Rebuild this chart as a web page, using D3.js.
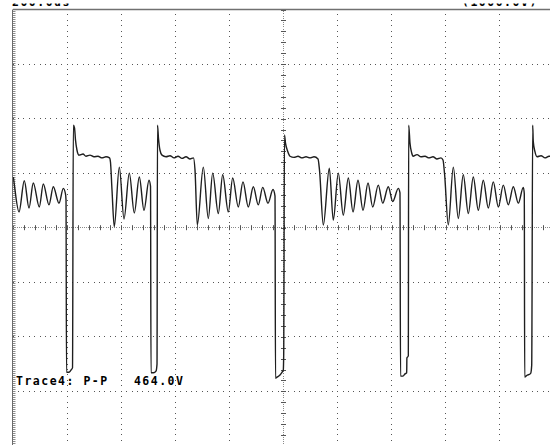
<!DOCTYPE html>
<html>
<head>
<meta charset="utf-8">
<script src="https://cdn.jsdelivr.net/npm/d3@7"></script>
<style>
  html, body { margin: 0; padding: 0; background: #fff; }
  svg { display: block; }
</style>
</head>
<body>
<svg id="chart" width="550" height="445"></svg>
<script>
// ---- data (time in divisions, voltage in volts; 100 V/div) ----
const traceTime = [
  0.006, 0.018, 0.111, 0.209, 0.296, 0.375, 0.486, 0.560, 0.665, 0.745, 0.850, 0.930, 0.970, 0.980,
  0.989, 1.035, 1.072, 1.100, 1.115, 1.137, 1.155, 1.183, 1.220,
  1.294, 1.349, 1.423, 1.497, 1.571, 1.645, 1.719, 1.784,
  1.802, 1.830, 1.872, 1.965, 2.052, 2.150, 2.242, 2.335, 2.421, 2.514, 2.542,
  2.551, 2.597, 2.643, 2.662, 2.671, 2.689, 2.717, 2.754,
  2.828, 2.902, 2.976, 3.050, 3.124, 3.198, 3.272, 3.336,
  3.364, 3.407, 3.518, 3.610, 3.691, 3.795, 3.876, 3.980, 4.061, 4.165, 4.251, 4.349, 4.442, 4.534, 4.616, 4.713, 4.806, 4.843,
  4.852, 4.880, 4.935, 4.972, 4.996, 5.004, 5.018, 5.037, 5.074, 5.120,
  5.194, 5.268, 5.342, 5.416, 5.490, 5.564, 5.638,
  5.665, 5.736, 5.847, 5.920, 6.013, 6.105, 6.198, 6.285, 6.377, 6.470, 6.562, 6.649, 6.752, 6.834, 6.937, 7.019, 7.122, 7.153,
  7.163, 7.209, 7.246, 7.277, 7.281, 7.307, 7.314, 7.338, 7.370, 7.394,
  7.468, 7.542, 7.616, 7.689, 7.763, 7.837, 7.911, 7.948,
  7.976, 8.046, 8.139, 8.231, 8.323, 8.416, 8.508, 8.601, 8.693, 8.786, 8.878, 8.971, 9.063, 9.155, 9.248, 9.340, 9.433, 9.451,
  9.458, 9.495, 9.569, 9.588, 9.606, 9.617, 9.649, 9.686,
  9.760, 9.834, 9.908, 10.037
];
const traceVolts = [
  93, 84, 29, 86, 36, 82, 38, 80, 42, 75, 45, 72, 62, 51,
  -265, -265, -261, -257, 188, 183, 161, 142, 133,
  135, 131, 133, 130, 131, 128, 130, 128,
  120, 69, 2, 111, 16, 100, 27, 93, 32, 87, 76,
  -266, -266, -263, -250, 188, 164, 142, 133,
  130, 132, 128, 131, 127, 130, 126, 128,
  106, 5, 111, 17, 100, 26, 97, 29, 91, 38, 84, 38, 75, 42, 74, 45, 70, 58,
  -276, -274, -270, -265, -261, -230, 170, 155, 141, 131,
  129, 131, 128, 130, 128, 130, 126,
  106, 5, 109, 14, 100, 23, 91, 29, 87, 32, 82, 38, 78, 45, 75, 48, 72, 64,
  -272, -272, -268, -266, -239, -235, 188, 155, 137, 131,
  134, 130, 131, 128, 130, 126, 128, 124,
  100, 5, 111, 17, 97, 26, 93, 32, 87, 36, 84, 38, 78, 42, 75, 45, 74, 62,
  -274, -271, -267, -252, 188, 158, 139, 130,
  132, 128, 131, 128
];
const gridDivisions = [0, 1, 2, 3, 4, 5, 6, 7, 8, 9, 10];
const gridVolts = [-400, -300, -200, -100, 0, 100, 200, 300, 400];
const measureLabel = "Trace4: P-P   464.0V";
const headerLeft = "200.0us";
const headerRight = "(1000.0V)";

// ---- scales ----
const x = d3.scaleLinear().domain([0, 10]).range([13, 554]);
const y = d3.scaleLinear().domain([-400, 400]).range([445.9, 9.5]);

const svg = d3.select("#chart");
const W = 550, H = 445;

svg.append("clipPath").attr("id", "plotClip")
  .append("rect").attr("x", x(0)).attr("y", y(400)).attr("width", W - x(0)).attr("height", H - y(400));
svg.append("clipPath").attr("id", "headClip")
  .append("rect").attr("x", 0).attr("y", 3.6).attr("width", W).attr("height", 3);

const grid = svg.append("g").attr("clip-path", "url(#plotClip)");
const px = v => Math.round(v);

// dotted vertical grid lines
const vDots = [];
gridDivisions.filter(d => d > 0 && d < 10 && d !== 5).forEach(d => {
  d3.range(-400, 401, 10).forEach(v => vDots.push([x(d), y(v)]));
});
// dotted horizontal grid lines
const hDots = [];
gridVolts.filter(v => v > -400 && v < 400 && v !== 0).forEach(v => {
  d3.range(0, 10.01, 0.1).forEach(t => hDots.push([x(t), y(v)]));
});
grid.selectAll("rect.dot").data(vDots.concat(hDots)).join("rect")
  .attr("class", "dot")
  .attr("x", d => px(d[0] - 0.5)).attr("y", d => px(d[1] - 0.5))
  .attr("width", 1).attr("height", 1).attr("fill", "#555");

// center horizontal axis: fine dots + ticks
const cy = y(0), cx = x(5);
grid.selectAll("rect.cdh").data(d3.range(0, 10.01, 0.04)).join("rect")
  .attr("class", "cdh")
  .attr("x", t => px(x(t) - 0.5)).attr("y", px(cy - 0.5)).attr("width", 1).attr("height", 1)
  .attr("fill", "#8a8a8a");
grid.selectAll("line.cth").data(d3.range(0, 10.01, 0.2)).join("line")
  .attr("class", "cth")
  .attr("x1", t => px(x(t)) + 0.5).attr("x2", t => px(x(t)) + 0.5)
  .attr("y1", cy - 2.5).attr("y2", cy + 2.5)
  .attr("stroke", "#555").attr("stroke-width", 1);
// center vertical axis
grid.selectAll("rect.cdv").data(d3.range(-400, 401, 4)).join("rect")
  .attr("class", "cdv")
  .attr("x", px(cx - 0.5)).attr("y", v => px(y(v) - 0.5)).attr("width", 1).attr("height", 1)
  .attr("fill", "#8a8a8a");
grid.selectAll("line.ctv").data(d3.range(-400, 401, 20)).join("line")
  .attr("class", "ctv")
  .attr("x1", cx - 2.5).attr("x2", cx + 2.5)
  .attr("y1", v => px(y(v)) + 0.5).attr("y2", v => px(y(v)) + 0.5)
  .attr("stroke", "#555").attr("stroke-width", 1);

// frame: top border and left ruler
svg.append("line")
  .attr("x1", x(0)).attr("x2", W).attr("y1", y(400)).attr("y2", y(400))
  .attr("stroke", "#707070").attr("stroke-width", 1.6);
svg.append("line")
  .attr("x1", x(0) - 0.5).attr("x2", x(0) - 0.5).attr("y1", y(400)).attr("y2", H)
  .attr("stroke", "#6a6a6a").attr("stroke-width", 1);
svg.selectAll("line.ruler").data(d3.range(y(400) + 1, H, 2)).join("line")
  .attr("class", "ruler")
  .attr("x1", x(0)).attr("x2", x(0) + 2.5)
  .attr("y1", d => Math.round(d) + 0.5).attr("y2", d => Math.round(d) + 0.5)
  .attr("stroke", "#8c8c8c").attr("stroke-width", 1);

// waveform
const pts = traceTime.map((t, i) => [t, traceVolts[i]]);
const line = d3.line().x(d => x(d[0])).y(d => y(d[1])).curve(d3.curveMonotoneX);
svg.append("path")
  .attr("clip-path", "url(#plotClip)")
  .attr("d", line(pts))
  .attr("fill", "none").attr("stroke", "#1e1e1e").attr("stroke-width", 1.4)
  .attr("stroke-linejoin", "round");

// text
const font = "'DejaVu Sans Mono', 'Liberation Mono', monospace";
svg.append("text")
  .attr("x", 16).attr("y", 385)
  .attr("font-family", font).attr("font-size", 11.5).attr("font-weight", "bold")
  .attr("letter-spacing", "1.5px")
  .attr("fill", "#000").attr("xml:space", "preserve").style("white-space", "pre")
  .text(measureLabel);

const head = svg.append("g").attr("clip-path", "url(#headClip)");
head.append("text")
  .attr("x", 12).attr("y", 5.6)
  .attr("font-family", font).attr("font-size", 11.5).attr("font-weight", "bold")
  .attr("letter-spacing", "1.5px")
  .attr("fill", "#000").text(headerLeft);
head.append("text")
  .attr("x", 462).attr("y", 5.6)
  .attr("font-family", font).attr("font-size", 11.5).attr("font-weight", "bold")
  .attr("letter-spacing", "1.5px")
  .attr("fill", "#000").text(headerRight);
</script>
</body>
</html>
